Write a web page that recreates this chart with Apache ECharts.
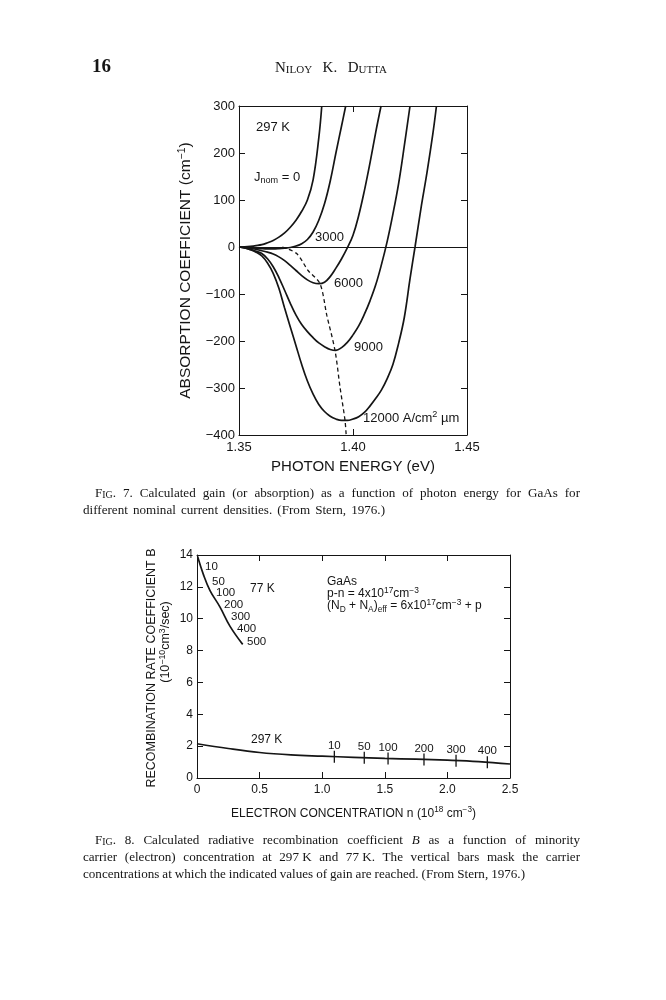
<!DOCTYPE html>
<html><head><meta charset="utf-8"><title>Stern 1976 – Fig. 7 and Fig. 8</title>
<script src="https://cdn.jsdelivr.net/npm/echarts@6.0.0/dist/echarts.min.js"></script>
<style>html,body{margin:0;padding:0;background:#fff;}#chart{width:666px;height:1000px;}</style>
</head><body><div id="chart"></div>
<script>
// ---------------- FIG. 7 data (photon energy eV, absorption cm^-1) ----------------
const energyTicks = [1.35, 1.40, 1.45];
const absorptionTicks = [-400, -300, -200, -100, 0, 100, 200, 300];
const gainJ0 = [[1.350,0],[1.3525,0.5],[1.355,1.5],[1.3575,3],[1.360,5],[1.3625,9],[1.365,14],[1.3675,21],[1.370,30],[1.3725,42],[1.375,57],[1.3775,76],[1.380,100],[1.3825,143],[1.385,232],[1.3863,300]];
const gainJ3000 = [[1.350,0],[1.3525,-0.5],[1.355,-1.5],[1.3575,-2.5],[1.360,-3.5],[1.3625,-4],[1.365,-4],[1.3675,-3.5],[1.370,-2.5],[1.3725,-1],[1.375,2],[1.3775,7],[1.380,16],[1.3825,32],[1.385,57],[1.3875,92],[1.390,140],[1.3925,200],[1.395,258],[1.3968,300]];
const gainJ6000 = [[1.350,0],[1.3525,-1],[1.355,-3],[1.3575,-5],[1.360,-8],[1.3625,-11],[1.365,-15],[1.3675,-21],[1.370,-29],[1.3725,-39],[1.375,-50],[1.3775,-61],[1.380,-70],[1.3825,-76],[1.385,-78],[1.3875,-75],[1.390,-63],[1.3925,-45],[1.395,-25],[1.3975,-2],[1.400,25],[1.4025,67],[1.405,120],[1.4075,180],[1.410,245],[1.4123,300]];
const gainJ9000 = [[1.350,0],[1.3525,-2],[1.355,-5],[1.3575,-9],[1.360,-14],[1.3625,-25],[1.365,-42],[1.3675,-65],[1.370,-92],[1.3725,-120],[1.375,-145],[1.3775,-165],[1.380,-180],[1.3825,-193],[1.385,-204],[1.3875,-212],[1.390,-218],[1.3925,-220],[1.395,-214],[1.3975,-203],[1.400,-187],[1.4025,-168],[1.405,-143],[1.4075,-114],[1.410,-80],[1.4125,-37],[1.415,12],[1.4175,70],[1.420,135],[1.4225,215],[1.425,300]];
const gainJ12000 = [[1.350,0],[1.3525,-2],[1.355,-6],[1.3575,-11],[1.360,-19],[1.3625,-34],[1.365,-56],[1.3675,-88],[1.370,-130],[1.3725,-170],[1.375,-210],[1.3775,-250],[1.380,-285],[1.3825,-313],[1.385,-335],[1.3875,-350],[1.390,-360],[1.3925,-366],[1.395,-369],[1.3975,-369],[1.400,-366],[1.4025,-361],[1.405,-352],[1.4075,-338],[1.410,-322],[1.4125,-304],[1.415,-280],[1.4175,-250],[1.420,-205],[1.4225,-150],[1.425,-68],[1.4272,0],[1.430,88],[1.4325,160],[1.435,240],[1.4366,300]];
const peakGainLocus = [[1.369,0],[1.3753,-14],[1.3803,-50],[1.3855,-78],[1.3885,-145],[1.3921,-220],[1.3943,-298],[1.3965,-369],[1.3970,-400]];

// ---------------- FIG. 8 data (n in 1e18 cm^-3, B in 1e-10 cm^3/s) ----------------
const concentrationTicks = [0, 0.5, 1.0, 1.5, 2.0, 2.5];
const bTicks = [0, 2, 4, 6, 8, 10, 12, 14];
const b77K = [[0.005,13.9],[0.05,12.8],[0.104,11.77],[0.184,10.73],[0.264,9.52],[0.365,8.39]];
const b297K = [[0,2.15],[0.25,1.85],[0.5,1.6],[0.75,1.45],[1.0,1.37],[1.25,1.3],[1.5,1.23],[1.75,1.18],[2.0,1.12],[2.25,1.03],[2.5,0.88]];
const gainMarkN297 = [1.097, 1.336, 1.526, 1.813, 2.069, 2.319];
const gainMarkB297 = [1.33, 1.27, 1.22, 1.16, 1.08, 0.99];
const gainMarkLabels297 = ['10', '50', '100', '200', '300', '400'];
const gainLabels77 = ['10', '50', '100', '200', '300', '400', '500'];

// ---------------- helpers ----------------
const INK = '#151515';
const SANS = 'Liberation Sans';
const SERIF = 'Liberation Serif';
const step = a => +(a[1] - a[0]).toFixed(6);
const minus = v => (v < 0 ? '\u2212' + Math.abs(v) : String(v));

function chartRich(size) {
  return {
    sup: {fontSize: size * 0.68, fontFamily: SANS, color: INK, padding: [0, 0, 7, 0]},
    sub: {fontSize: size * 0.68, fontFamily: SANS, color: INK, padding: [7, 0, 0, 0]}
  };
}
function gRich(size) {
  return {
    n: {fontSize: size, fontFamily: SANS, fill: INK},
    sup: {fontSize: size * 0.7, fontFamily: SANS, fill: INK, padding: [0, 0, 7, 0]},
    sub: {fontSize: size * 0.7, fontFamily: SANS, fill: INK, padding: [7, 0, 0, 0]}
  };
}
function gText(x, y, text, size, opt) {
  opt = opt || {};
  return {
    type: 'text', x: x, y: y, rotation: opt.rotation || 0, silent: true,
    style: {
      text: text, rich: gRich(size), fontSize: size, fontFamily: SANS, fill: INK,
      align: opt.align || 'left', verticalAlign: 'middle',
      textAlign: opt.align || 'left', textVerticalAlign: 'middle'
    }
  };
}

// justified serif lines (captions, running head); x1 = null -> natural word spacing
const mctx = document.createElement('canvas').getContext('2d');
function measure(t, st) {
  mctx.font = (st.fontStyle || 'normal') + ' ' + (st.fontWeight || 'normal') + ' ' + st.fontSize + 'px "' + st.fontFamily + '"';
  return mctx.measureText(t).width;
}
function wordSegs(w) {
  if (w[0] === '^') {
    const s = w.slice(1), rest = s.slice(1), segs = [[s[0], 'n']];
    if (rest.endsWith('.')) { segs.push([rest.slice(0, -1), 's']); segs.push(['.', 'n']); }
    else if (rest) segs.push([rest, 's']);
    return segs;
  }
  if (w[0] === '_') return [[w.slice(1), 'i']];
  return [[w, 'n']];
}
function justify(text, x0, x1, y, big, small) {
  const styles = {
    n: {fontSize: big, fontFamily: SERIF, fill: INK},
    s: {fontSize: small, fontFamily: SERIF, fill: INK, verticalAlign: 'bottom'},
    i: {fontSize: big, fontFamily: SERIF, fontStyle: 'italic', fill: INK}
  };
  const words = text.split(' ').map(w => {
    const segs = wordSegs(w);
    const width = segs.reduce((s, g) => s + measure(g[0], styles[g[1]]), 0);
    return {segs: segs, width: width};
  });
  const total = words.reduce((s, w) => s + w.width, 0);
  const natural = measure(' ', styles.n) * 1.15;
  const gap = (x1 == null || words.length < 2) ? natural : Math.max(2.5, (x1 - x0 - total) / (words.length - 1));
  let x = x0;
  return words.map(w => {
    const el = {
      type: 'text', x: x, y: y, silent: true,
      style: {
        text: w.segs.map(g => '{' + g[1] + '|' + g[0] + '}').join(''),
        rich: styles, align: 'left', verticalAlign: 'middle', textAlign: 'left', textVerticalAlign: 'middle'
      }
    };
    x += w.width + gap;
    return el;
  });
}

function frameX(grid, min, max, interval, pos, extra) {
  return Object.assign({
    type: 'value', gridIndex: grid, position: pos, min: min, max: max, interval: interval,
    axisLine: {show: true, onZero: false, lineStyle: {color: INK, width: 1}},
    axisTick: {show: true, inside: true, length: 6, lineStyle: {color: INK, width: 1}},
    axisLabel: {show: false},
    splitLine: {show: false}
  }, extra || {});
}

const curveStyle = {color: INK, width: 1.7};
function curve(data, xi, yi, extra) {
  return Object.assign({
    type: 'line', xAxisIndex: xi, yAxisIndex: yi, data: data, showSymbol: false, symbol: 'none',
    smooth: 0.4, lineStyle: curveStyle, silent: true, clip: true
  }, extra || {});
}

// ---------------- option ----------------
const labels77Pos = [[205,567],[212,582],[216,593],[224,605],[231,617],[237,629],[247,642]];
const CAP = 13.1, CAPS = 9.9;

const graphics = [].concat(
  [{type: 'text', x: 92, y: 67, silent: true,
    style: {text: '16', fontFamily: SERIF, fontWeight: 'bold', fontSize: 19, fill: INK,
      align: 'left', verticalAlign: 'middle', textAlign: 'left', textVerticalAlign: 'middle'}}],
  justify('^NILOY K. ^DUTTA', 275, 387, 68, 15, 11),
  // Fig. 7 annotations
  [
    gText(256, 127, '297 K', 13),
    gText(254, 177, 'J{sub|nom} = 0', 13),
    gText(315, 237, '3000', 13),
    gText(334, 283, '6000', 13),
    gText(354, 347, '9000', 13),
    gText(363, 418, '12000 A/cm{sup|2} \u00b5m', 13)
  ],
  justify('^FIG. 7. Calculated gain (or absorption) as a function of photon energy for GaAs for', 95, 580, 494, CAP, CAPS),
  justify('different nominal current densities. (From Stern, 1976.)', 83, 385, 511, CAP, CAPS),
  // Fig. 8 annotations
  [
    gText(250, 589, '77 K', 12),
    gText(251, 740, '297 K', 12),
    gText(327, 582, 'GaAs', 12),
    gText(327, 594, 'p-n = 4x10{sup|17}cm{sup|\u22123}', 12),
    gText(327, 606, '(N{sub|D} + N{sub|A}){sub|eff} = 6x10{sup|17}cm{sup|\u22123} + p', 12),
    gText(152, 668, 'RECOMBINATION RATE COEFFICIENT B', 12.5, {rotation: Math.PI / 2, align: 'center'}),
    gText(166, 642, '(10{sup|\u221210}cm{sup|3}/sec)', 12.5, {rotation: Math.PI / 2, align: 'center'})
  ],
  gainLabels77.map((t, i) => gText(labels77Pos[i][0], labels77Pos[i][1], t, 11.5)),
  justify('^FIG. 8. Calculated radiative recombination coefficient _B as a function of minority', 95, 580, 841, CAP, CAPS),
  justify('carrier (electron) concentration at 297\u00a0K and 77\u00a0K. The vertical bars mask the carrier', 83, 580, 858, CAP, CAPS),
  justify('concentrations at which the indicated values of gain are reached. (From Stern, 1976.)', 83, 525, 875, CAP, CAPS)
);

const option = {
  animation: false,
  backgroundColor: '#ffffff',
  textStyle: {fontFamily: SANS, color: INK},
  grid: [
    {left: 239, top: 106, width: 228, height: 329},
    {left: 197, top: 555, width: 313, height: 223}
  ],
  xAxis: [
    frameX(0, energyTicks[0], energyTicks[energyTicks.length - 1], step(energyTicks), 'bottom', {
      axisLabel: {show: true, fontSize: 13, fontFamily: SANS, color: INK, margin: 6, formatter: v => v.toFixed(2)},
      name: 'PHOTON ENERGY (eV)', nameLocation: 'middle', nameGap: 24,
      nameTextStyle: {fontSize: 15, fontFamily: SANS, color: INK}
    }),
    frameX(0, energyTicks[0], energyTicks[energyTicks.length - 1], step(energyTicks), 'top'),
    frameX(1, concentrationTicks[0], concentrationTicks[concentrationTicks.length - 1], step(concentrationTicks), 'bottom', {
      axisLabel: {show: true, fontSize: 12, fontFamily: SANS, color: INK, margin: 6, formatter: v => (v === 0 ? '0' : v.toFixed(1))},
      name: 'ELECTRON CONCENTRATION n (10{sup|18} cm{sup|\u22123})', nameLocation: 'middle', nameGap: 28,
      nameTextStyle: {fontSize: 12, fontFamily: SANS, color: INK, rich: chartRich(12)}
    }),
    frameX(1, concentrationTicks[0], concentrationTicks[concentrationTicks.length - 1], step(concentrationTicks), 'top')
  ],
  yAxis: [
    frameX(0, absorptionTicks[0], absorptionTicks[absorptionTicks.length - 1], step(absorptionTicks), 'left', {
      axisLabel: {show: true, fontSize: 13, fontFamily: SANS, color: INK, margin: 4, formatter: minus},
      name: 'ABSORPTION COEFFICIENT (cm{sup|\u22121})', nameLocation: 'middle', nameGap: 44, nameRotate: 90,
      nameTextStyle: {fontSize: 15.5, fontFamily: SANS, color: INK, rich: chartRich(15.5)}
    }),
    frameX(0, absorptionTicks[0], absorptionTicks[absorptionTicks.length - 1], step(absorptionTicks), 'right'),
    frameX(1, bTicks[0], bTicks[bTicks.length - 1], step(bTicks), 'left', {
      axisLabel: {show: true, fontSize: 12, fontFamily: SANS, color: INK, margin: 4}
    }),
    frameX(1, bTicks[0], bTicks[bTicks.length - 1], step(bTicks), 'right')
  ],
  series: [
    curve(gainJ0, 0, 0, {
      markLine: {silent: true, symbol: 'none', label: {show: false},
        lineStyle: {color: INK, width: 1, type: 'solid'}, data: [{yAxis: 0}]}
    }),
    curve(gainJ3000, 0, 0),
    curve(gainJ6000, 0, 0),
    curve(gainJ9000, 0, 0),
    curve(gainJ12000, 0, 0),
    curve(peakGainLocus, 0, 0, {smooth: 0.3, lineStyle: {color: INK, width: 1.3, type: [4, 3]}}),
    curve(b77K, 2, 2),
    curve(b297K, 2, 2),
    {
      type: 'scatter', xAxisIndex: 2, yAxisIndex: 2, silent: true,
      data: gainMarkN297.map((n, i) => [n, gainMarkB297[i]]),
      symbol: 'rect', symbolSize: [1.3, 12], itemStyle: {color: INK, opacity: 1},
      label: {show: true, position: 'top', distance: -1, fontSize: 11.5, fontFamily: SANS, color: INK, opacity: 1,
        formatter: p => gainMarkLabels297[p.dataIndex]}
    }
  ],
  graphic: graphics
};

const chart = echarts.init(document.getElementById('chart'), null, {width: 666, height: 1000});
chart.setOption(option);
</script>
</body></html>
